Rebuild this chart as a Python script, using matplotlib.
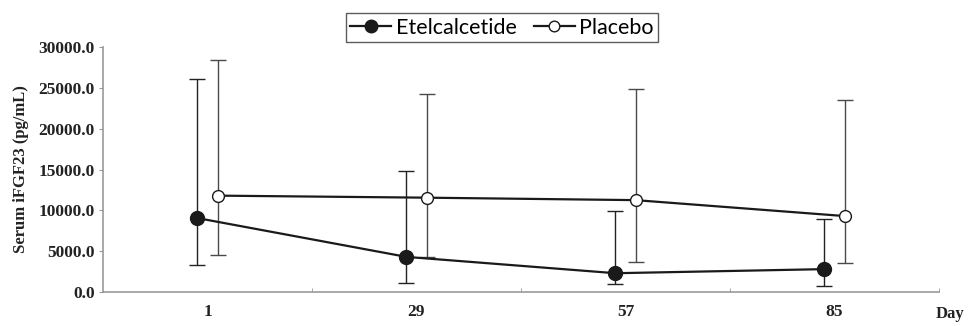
import numpy as np
import matplotlib
matplotlib.use("Agg")
import matplotlib.pyplot as plt
from matplotlib.ticker import FixedLocator, FormatStrFormatter

# Data
days = ["1", "29", "57", "85"]

etel_mean = [9050, 4300, 2300, 2800]
etel_upper = [26050, 14850, 9900, 8900]
etel_lower = [3300, 1150, 1000, 700]

plac_mean = [11800, 11550, 11250, 9300]
plac_upper = [28400, 24300, 24900, 23500]
plac_lower = [4500, 4300, 3700, 3500]

plt.rcParams["font.family"] = ["Liberation Serif", "DejaVu Serif"]

fig = plt.figure(figsize=(9.71, 3.26), dpi=100)
ax = fig.add_axes([103 / 971, 1 - 292 / 326, (939 - 103) / 971, (292 - 47) / 326])

x = np.arange(len(days))
off = 0.048

# Error bars
ax.errorbar(x - off, etel_mean,
            yerr=[np.subtract(etel_mean, etel_lower), np.subtract(etel_upper, etel_mean)],
            fmt="none", ecolor="#222222", elinewidth=1.0, capsize=5.5, capthick=1.0, zorder=2)
ax.errorbar(x + off, plac_mean,
            yerr=[np.subtract(plac_mean, plac_lower), np.subtract(plac_upper, plac_mean)],
            fmt="none", ecolor="#4a4a4a", elinewidth=1.0, capsize=5.5, capthick=1.0, zorder=2)

# Lines with markers
l1, = ax.plot(x - off, etel_mean, color="#1a1a1a", lw=1.6, marker="o", ms=10,
              mfc="#1a1a1a", mec="#1a1a1a", zorder=3)
l2, = ax.plot(x + off, plac_mean, color="#1a1a1a", lw=1.6, marker="o", ms=8.5,
              mfc="white", mec="#1a1a1a", mew=1.0, zorder=3)

ax.set_xlim(-0.5, 3.5)
ax.set_ylim(0, 30000)

ax.set_yticks(np.arange(0, 30001, 5000))
ax.yaxis.set_major_formatter(FormatStrFormatter("%.1f"))
ax.set_xticks(x)
ax.set_xticklabels(days)
ax.xaxis.set_minor_locator(FixedLocator([0.5, 1.5, 2.5, 3.5]))

ax.tick_params(axis="x", which="major", length=0, pad=9)
ax.tick_params(axis="x", which="minor", direction="in", length=3, color="#999999")
ax.tick_params(axis="y", which="major", direction="out", length=3, color="#999999", pad=3)
for lab in ax.get_xticklabels() + ax.get_yticklabels():
    lab.set_fontweight("bold")
    lab.set_fontsize(12.5)
    lab.set_color("#222222")

for s in ["top", "right"]:
    ax.spines[s].set_visible(False)
for s in ["left", "bottom"]:
    ax.spines[s].set_color("#999999")
    ax.spines[s].set_linewidth(1.2)

ax.set_ylabel("Serum iFGF23 (pg/mL)", fontsize=12, fontweight="bold", color="#222222", labelpad=7)
fig.text(950 / 971, 1 - 314 / 326, "Day", fontsize=12, fontweight="bold", color="#222222",
         ha="center", va="center")

leg = fig.legend([l1, l2], ["Etelcalcetide", "Placebo"], loc="center",
                 bbox_to_anchor=(502 / 971, 1 - 27.5 / 326), ncol=2, frameon=True,
                 fancybox=False, edgecolor="#333333", handlelength=1.9, handletextpad=0.2,
                 columnspacing=0.8, borderpad=0.2, markerscale=0.9,
                 prop={"family": ["Lato", "DejaVu Sans"], "size": 15.5})
leg.get_frame().set_linewidth(1.0)

fig.savefig("out.png", dpi=100)
